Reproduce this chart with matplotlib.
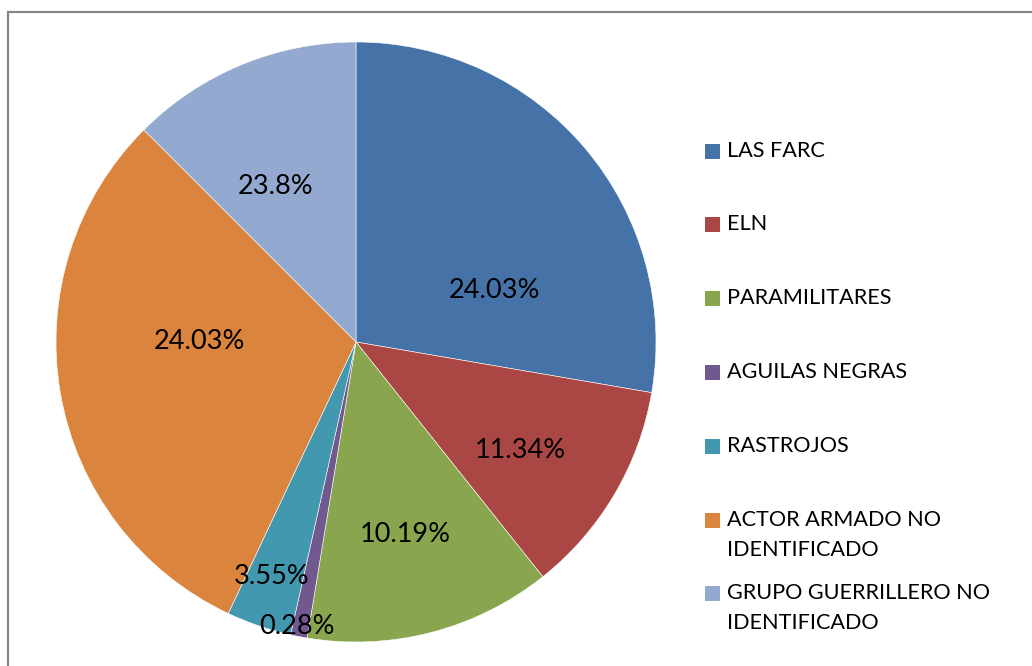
import matplotlib.pyplot as plt
from matplotlib.patches import Rectangle

# Data (slice sizes estimated from angles, labels as printed)
categories = ["LAS FARC", "ELN", "PARAMILITARES", "AGUILAS NEGRAS", "RASTROJOS",
              "ACTOR ARMADO NO\nIDENTIFICADO", "GRUPO GUERRILLERO NO\nIDENTIFICADO"]
slice_values = [27.7, 11.6, 13.3, 0.9, 3.5, 30.5, 12.5]
pct_labels = ["24.03%", "11.34%", "10.19%", "0.28%", "3.55%", "24.03%", "23.8%"]

colors = ["#4572A7", "#AA4643", "#89A54E", "#71588F", "#4198AF", "#DB843D", "#93A9CF"]
# label positions in pie-radius units (Excel "best fit" placement)
label_pos = [(0.463, 0.17), (0.547, -0.36), (0.163, -0.643), (-0.197, -0.947),
             (-0.28, -0.78), (-0.523, 0.003), (-0.267, 0.52)]

plt.rcParams['font.family'] = ['Lato', 'DejaVu Sans']

W, H = 1032, 666
fig = plt.figure(figsize=(W / 100, H / 100), dpi=100)

# outer chart border (right and bottom edges fall outside the picture)
fig.patches.append(Rectangle((8 / W, -0.1), 1.2, (H - 12) / H + 0.1,
                             transform=fig.transFigure, fill=False,
                             edgecolor="#868686", linewidth=1.6))

cx, cy, r = 356, H - 342, 300
ax = fig.add_axes([(cx - r) / W, (cy - r) / H, 2 * r / W, 2 * r / H])
ax.pie(slice_values, colors=colors, startangle=90, counterclock=False,
       radius=1, wedgeprops=dict(edgecolor="white", linewidth=0.4))
ax.set_xlim(-1, 1)
ax.set_ylim(-1, 1)
ax.set_aspect("equal")
ax.axis("off")

for txt, (x, y) in zip(pct_labels, label_pos):
    ax.text(x, y, txt, ha="center", va="center", fontsize=19.5, color="black")

# legend drawn by hand so entries keep Excel's spacing
legend_y = [151, 224, 298, 372, 446, 520, 593]
for name, col, y in zip(categories, colors, legend_y):
    fig.patches.append(Rectangle((705 / W, (H - y - 7.5) / H), 15 / W, 15 / H,
                                 transform=fig.transFigure, facecolor=col,
                                 edgecolor="none"))
    if "\n" in name:
        fig.text(727 / W, (H - y + 10) / H, name, ha="left", va="top",
                 fontsize=15.6, color="black", linespacing=1.6)
    else:
        fig.text(727 / W, (H - y) / H, name, ha="left", va="center",
                 fontsize=15.6, color="black")

fig.savefig("out.png", dpi=100, facecolor="white")
